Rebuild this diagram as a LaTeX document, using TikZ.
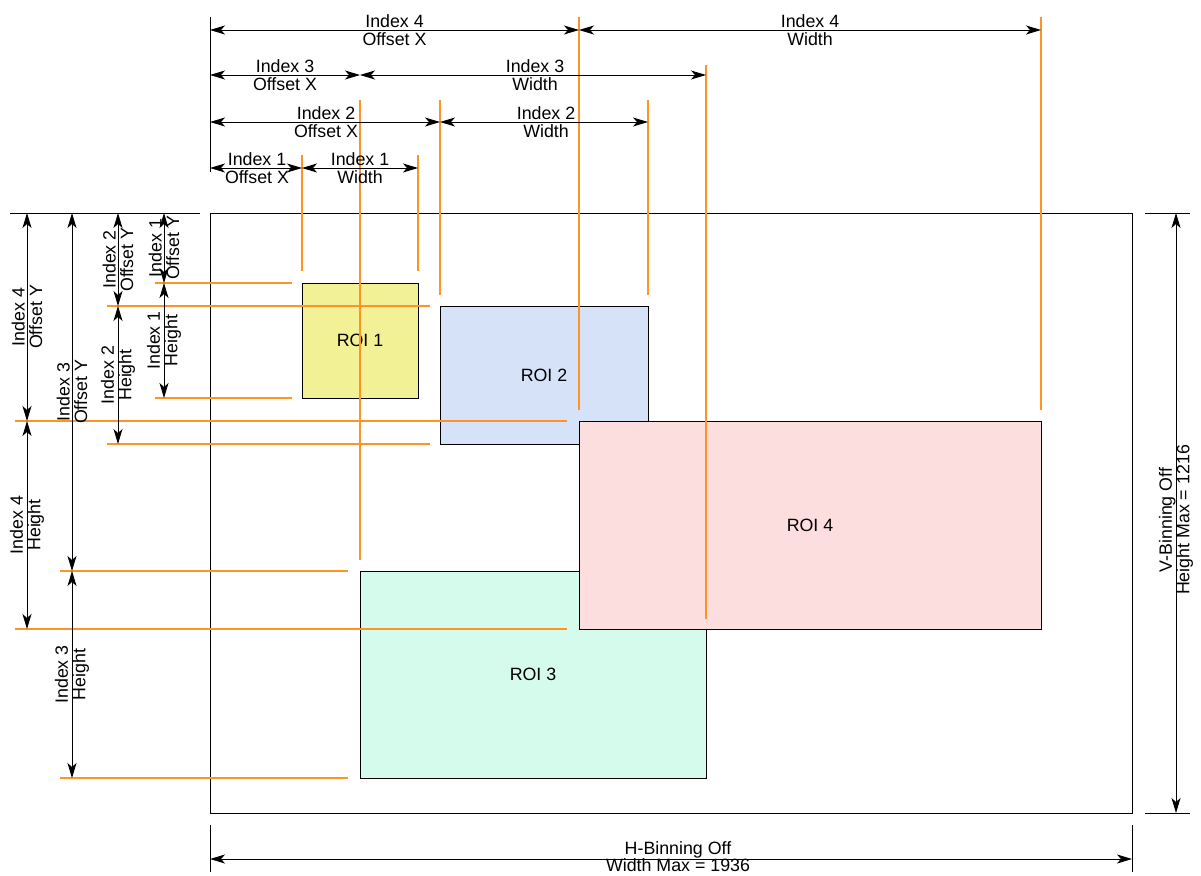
\documentclass[tikz,border=0pt]{standalone}
\usepackage{fontspec}
\setmainfont{Liberation Sans}
\usetikzlibrary{arrows.meta}
\definecolor{roiA}{HTML}{F3F196}
\definecolor{roiB}{HTML}{D6E2F8}
\definecolor{roiC}{HTML}{D4FBEC}
\definecolor{roiD}{HTML}{FDDEDE}
\definecolor{ext}{HTML}{FF9326}
\tikzset{
  tip/.tip={Stealth[length=15pt,width=9pt,inset=4pt]},
  dim/.style={draw=black, line width=0.9pt, tip-tip},
  lbl/.style={align=center, inner sep=0pt, font=\fontsize{17.8}{17.5}\selectfont},
  extl/.style={draw=ext, line width=1.5pt},
  blk/.style={draw=black, line width=0.9pt},
  roi/.style={draw=black, line width=1pt, inner sep=0pt, font=\fontsize{17.8}{17.5}\selectfont},
}
\begin{document}
\begin{tikzpicture}[x=1pt,y=-1pt]
\useasboundingbox (0,0) rectangle (1201,875);
% sensor frame
\node[blk, minimum width=922pt, minimum height=600pt, inner sep=0pt] (sensor) at (671,513) {};
% ROIs
\node[roi, fill=roiA, minimum width=116pt, minimum height=115pt] (roi1) at (360,340.5) {ROI 1};
\node[roi, fill=roiB, minimum width=208pt, minimum height=138pt] (roi2) at (544,375) {ROI 2};
\node[roi, fill=roiC, minimum width=346pt, minimum height=207pt] (roi3) at (533,674.5) {ROI 3};
\node[roi, fill=roiD, minimum width=462pt, minimum height=208pt] (roi4) at (810,525) {ROI 4};
% orange vertical extension lines
\coordinate (v1a) at (302,155); \coordinate (v1b) at (302,271);
\coordinate (v2a) at (360,100); \coordinate (v2b) at (360,560);
\coordinate (v3a) at (418,155); \coordinate (v3b) at (418,271);
\coordinate (v4a) at (440,100); \coordinate (v4b) at (440,295);
\coordinate (v5a) at (579,17);  \coordinate (v5b) at (579,410);
\coordinate (v6a) at (648,100); \coordinate (v6b) at (648,295);
\coordinate (v7a) at (706,65);  \coordinate (v7b) at (706,619);
\coordinate (v8a) at (1041,17); \coordinate (v8b) at (1041,410);
\foreach \i in {1,...,8} {\draw[extl] (v\i a) -- (v\i b);}
% orange horizontal extension lines
\coordinate (h1a) at (155,283); \coordinate (h1b) at (292,283);
\coordinate (h2a) at (107,306); \coordinate (h2b) at (430,306);
\coordinate (h3a) at (155,398); \coordinate (h3b) at (292,398);
\coordinate (h4a) at (15,421);  \coordinate (h4b) at (567,421);
\coordinate (h5a) at (107,444); \coordinate (h5b) at (430,444);
\coordinate (h6a) at (60,571);  \coordinate (h6b) at (348,571);
\coordinate (h7a) at (15,629);  \coordinate (h7b) at (567,629);
\coordinate (h8a) at (60,778);  \coordinate (h8b) at (348,778);
\foreach \i in {1,...,8} {\draw[extl] (h\i a) -- (h\i b);}
% black extension lines
\coordinate (e1a) at (210,17);   \coordinate (e1b) at (210,172);
\coordinate (e2a) at (10,213);   \coordinate (e2b) at (200,213);
\coordinate (e3a) at (1145,213); \coordinate (e3b) at (1190,213);
\coordinate (e4a) at (1145,813); \coordinate (e4b) at (1190,813);
\coordinate (e5a) at (210,825);  \coordinate (e5b) at (210,872);
\coordinate (e6a) at (1132,825); \coordinate (e6b) at (1132,872);
\foreach \i in {1,...,6} {\draw[blk] (e\i a) -- (e\i b);}
% horizontal dimensions
\coordinate (x0a) at (210,30); \coordinate (x4) at (579,30); \coordinate (x4w) at (1041,30);
\draw[dim] (x0a) -- node[lbl]{Index 4\\Offset X} (x4);
\draw[dim] (x4) -- node[lbl]{Index 4\\Width} (x4w);
\coordinate (x0b) at (210,75); \coordinate (x3) at (360,75); \coordinate (x3w) at (706,75);
\draw[dim] (x0b) -- node[lbl]{Index 3\\Offset X} (x3);
\draw[dim] (x3) -- node[lbl, xshift=2pt]{Index 3\\Width} (x3w);
\coordinate (x0c) at (210,122); \coordinate (x2) at (440,122); \coordinate (x2w) at (648,122);
\draw[dim] (x0c) -- node[lbl, xshift=1pt]{Index 2\\Offset X} (x2);
\draw[dim] (x2) -- node[lbl, xshift=2pt]{Index 2\\Width} (x2w);
\coordinate (x0d) at (210,168); \coordinate (x1) at (302,168); \coordinate (x1w) at (418,168);
\draw[dim] (x0d) -- node[lbl, xshift=1pt]{Index 1\\Offset X} (x1);
\draw[dim] (x1) -- node[lbl]{Index 1\\Width} (x1w);
% vertical dimensions
\coordinate (y4t) at (27,213); \coordinate (y4) at (27,421); \coordinate (y4h) at (27,629);
\draw[dim] (y4t) -- node[lbl, rotate=90]{Index 4\\Offset Y} (y4);
\draw[dim] (y4) -- node[lbl, rotate=90]{Index 4\\Height} (y4h);
\coordinate (y3t) at (72,213); \coordinate (y3) at (72,571); \coordinate (y3h) at (72,778);
\draw[dim] (y3t) -- node[lbl, rotate=90]{Index 3\\Offset Y} (y3);
\draw[dim] (y3) -- node[lbl, rotate=90]{Index 3\\Height} (y3h);
\coordinate (y2t) at (118,213); \coordinate (y2) at (118,306); \coordinate (y2h) at (118,444);
\draw[dim] (y2t) -- node[lbl, rotate=90]{Index 2\\Offset Y} (y2);
\draw[dim] (y2) -- node[lbl, rotate=90]{Index 2\\Height} (y2h);
\coordinate (y1t) at (164,213); \coordinate (y1) at (164,283); \coordinate (y1h) at (164,398);
\draw[dim] (y1t) -- node[lbl, rotate=90]{Index 1\\Offset Y} (y1);
\draw[dim] (y1) -- node[lbl, rotate=90]{Index 1\\Height} (y1h);
% sensor size
\coordinate (vt) at (1176,213); \coordinate (vb) at (1176,813);
\draw[dim] (vt) -- node[lbl, rotate=90, xshift=-7pt]{V-Binning Off\\Height Max = 1216} (vb);
\coordinate (hl) at (210,859); \coordinate (hr) at (1132,859);
\draw[dim] (hl) -- node[lbl, xshift=7pt, yshift=2.5pt]{H-Binning Off\\Width Max = 1936} (hr);
\end{tikzpicture}
\end{document}
